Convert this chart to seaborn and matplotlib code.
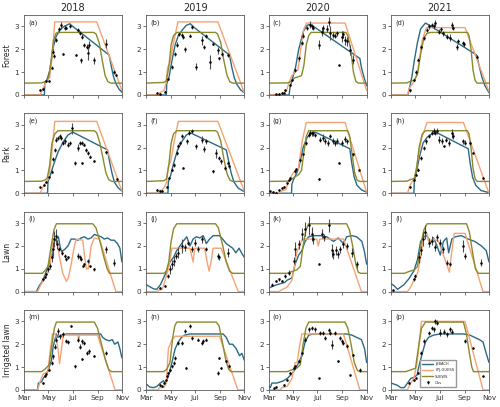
import pandas as pd
import matplotlib.pyplot as plt
import seaborn as sns
from matplotlib.lines import Line2D

# LAI per site type and year, day of year vs value
years = ['2018', '2019', '2020', '2021']
sites = ['Forest', 'Park', 'Lawn', 'Irrigated lawn']
models = ['JSBACH', 'LPJ-GUESS', 'SUEWS']
month_ticks = [60, 121, 182, 244, 305]
month_labels = ['Mar', 'May', 'Jul', 'Sep', 'Nov']

# Forest 2018 (a)
jsbach_a = [(60, 0), (111, 0), (112, 0.5), (118, 0.7), (125, 1.1), (132, 2.0), (140, 2.55), (150, 2.85), (160, 3.0), (174, 3.12), (186, 2.95), (273, 1.75), (278, 1.3), (284, 0.8), (290, 0.5), (298, 0.25), (305, 0.12)]
lpj_a = [(60, 0), (100, 0), (108, 0.3), (116, 0.6), (124, 0.75), (130, 1.6), (137, 3.2), (242, 3.2), (305, 0.2)]
suews_a = [(60, 0.52), (104, 0.53), (112, 0.58), (116, 0.62), (122, 0.8), (128, 1.5), (134, 2.4), (140, 2.7), (144, 2.74), (234, 2.74), (240, 2.68), (248, 2.3), (256, 1.5), (263, 0.85), (270, 0.58), (278, 0.52), (305, 0.52)]
obs_a = [(101, 0.22, 0.03), (108, 0.25, 0.03), (116, 0.6, 0.05), (122, 0.62, 0.05), (129, 1.2, 0.08), (133, 1.9, 0.1), (135, 1.72, 0.08), (141, 2.4, 0.1), (148, 2.88, 0.1), (153, 3.05, 0.15), (158, 1.8, 0.05), (162, 2.95, 0.1), (166, 2.95, 0.08), (174, 3.02, 0.1), (191, 1.75, 0.05), (195, 2.85, 0.1), (200, 2.72, 0.1), (203, 1.52, 0.1), (206, 2.55, 0.1), (211, 2.2, 0.08), (217, 2.12, 0.1), (219, 1.85, 0.3), (222, 2.2, 0.15), (235, 1.52, 0.15), (265, 2.25, 0.2), (286, 1.0, 0.08), (290, 0.88, 0.05)]

# Forest 2019 (b)
jsbach_b = [(60, 0), (110, 0), (111, 0.5), (117, 0.8), (124, 1.5), (132, 2.2), (140, 2.6), (150, 2.85), (160, 3.05), (170, 3.12), (180, 2.95), (268, 1.75), (274, 1.2), (280, 0.75), (287, 0.45), (296, 0.22), (305, 0.1)]
lpj_b = [(60, 0), (90, 0), (95, 0.12), (104, 0.2), (109, 0.5), (113, 1.2), (119, 1.4), (128, 2.3), (139, 3.2), (239, 3.2), (305, 0.1)]
suews_b = [(60, 0.52), (104, 0.55), (110, 0.62), (116, 1.2), (122, 2.2), (128, 2.6), (136, 2.74), (233, 2.74), (238, 2.68), (246, 2.3), (254, 1.5), (262, 0.85), (269, 0.58), (276, 0.52), (305, 0.52)]
obs_b = [(86, 0.1, 0.03), (93, 0.05, 0.03), (107, 0.15, 0.03), (115, 0.7, 0.05), (124, 1.23, 0.08), (132, 1.8, 0.08), (136, 2.2, 0.1), (142, 2.65, 0.08), (148, 2.64, 0.08), (152, 2.55, 0.08), (156, 2.0, 0.12), (169, 2.6, 0.08), (173, 2.97, 0.08), (184, 1.23, 0.15), (198, 2.4, 0.2), (204, 2.1, 0.1), (210, 2.58, 0.1), (218, 1.45, 0.3), (227, 2.25, 0.08), (239, 1.95, 0.15), (243, 1.6, 0.08), (250, 1.8, 0.1), (264, 1.75, 0.08)]

# Forest 2020 (c)
jsbach_c = [(60, 0), (111, 0), (113, 0.3), (119, 0.7), (127, 1.2), (135, 2.0), (147, 2.8), (156, 3.05), (164, 3.1), (288, 1.6), (292, 1.2), (298, 0.8), (305, 0.4)]
lpj_c = [(60, 0), (93, 0), (96, 0.1), (104, 0.15), (110, 0.5), (118, 0.85), (125, 1.0), (133, 1.1), (140, 2.0), (148, 2.9), (155, 3.15), (251, 3.15), (305, 0.2)]
suews_c = [(60, 0.52), (108, 0.53), (116, 0.6), (125, 0.75), (135, 0.8), (142, 0.85), (148, 1.3), (154, 2.2), (160, 2.6), (166, 2.74), (253, 2.74), (258, 2.6), (265, 2.0), (272, 1.0), (278, 0.6), (284, 0.52), (305, 0.52)]
obs_c = [(77, 0.03, 0.02), (85, 0.05, 0.02), (92, 0.08, 0.03), (97, 0.1, 0.03), (101, 0.2, 0.04), (112, 0.45, 0.05), (118, 0.65, 0.05), (125, 1.1, 0.08), (135, 1.6, 0.1), (143, 2.27, 0.1), (147, 2.6, 0.1), (155, 2.93, 0.1), (164, 3.08, 0.15), (168, 3.0, 0.1), (172, 2.93, 0.1), (185, 2.2, 0.2), (193, 2.78, 0.2), (197, 2.93, 0.15), (205, 2.9, 0.15), (212, 3.2, 0.2), (214, 2.7, 0.3), (220, 2.63, 0.15), (226, 2.6, 0.1), (230, 2.7, 0.1), (237, 1.3, 0.03), (243, 2.56, 0.25), (247, 2.65, 0.15), (251, 2.4, 0.2), (255, 2.35, 0.2), (264, 1.97, 0.2), (272, 1.54, 0.2)]

# Forest 2021 (d)
jsbach_d = [(60, 0), (102, 0), (106, 0.3), (112, 0.8), (118, 1.5), (126, 2.3), (134, 2.9), (146, 3.15), (156, 3.05), (274, 1.75), (280, 1.3), (287, 0.8), (295, 0.4), (305, 0.1)]
lpj_d = [(60, 0), (101, 0), (105, 0.3), (112, 0.45), (118, 0.6), (126, 1.0), (138, 2.4), (148, 2.95), (245, 2.95), (305, 0.15)]
suews_d = [(60, 0.52), (100, 0.53), (108, 0.6), (118, 0.65), (126, 0.9), (134, 1.8), (142, 2.5), (150, 2.7), (159, 2.74), (251, 2.74), (255, 2.6), (260, 2.0), (265, 1.1), (270, 0.65), (275, 0.52), (305, 0.52)]
obs_d = [(108, 0.2, 0.05), (118, 0.65, 0.05), (122, 1.0, 0.08), (128, 1.55, 0.08), (134, 2.1, 0.1), (142, 2.5, 0.1), (150, 2.85, 0.1), (156, 3.0, 0.1), (163, 3.07, 0.1), (167, 3.0, 0.1), (171, 3.15, 0.12), (179, 2.78, 0.1), (185, 2.88, 0.1), (191, 2.7, 0.1), (200, 2.56, 0.12), (208, 2.5, 0.15), (212, 3.05, 0.15), (216, 2.93, 0.1), (224, 2.1, 0.15), (228, 2.35, 0.1), (241, 2.27, 0.1), (243, 2.22, 0.1), (274, 1.68, 0.08)]

# Park 2018 (e)
jsbach_e = [(60, 0), (119, 0), (120, 0.5), (126, 0.8), (133, 1.2), (145, 1.8), (158, 2.25), (170, 2.55), (182, 2.68), (269, 1.9), (274, 1.4), (280, 0.9), (286, 0.5), (295, 0.25), (305, 0.1)]
lpj_e = [(60, 0), (100, 0), (108, 0.3), (116, 0.5), (122, 0.65), (128, 1.5), (137, 3.15), (242, 3.15), (305, 0.1)]
suews_e = [(60, 0.52), (104, 0.53), (112, 0.58), (118, 0.65), (124, 1.2), (130, 2.2), (137, 2.6), (145, 2.74), (236, 2.74), (242, 2.65), (250, 2.2), (258, 1.5), (265, 0.9), (272, 0.6), (280, 0.52), (305, 0.52)]
obs_e = [(101, 0.26, 0.03), (110, 0.37, 0.03), (116, 0.5, 0.04), (122, 0.7, 0.05), (129, 0.95, 0.06), (133, 1.5, 0.08), (137, 1.9, 0.1), (141, 2.35, 0.1), (145, 2.43, 0.1), (149, 2.5, 0.1), (153, 2.43, 0.1), (158, 2.2, 0.1), (163, 2.28, 0.1), (170, 2.13, 0.1), (176, 2.2, 0.1), (181, 2.85, 0.25), (187, 1.32, 0.08), (195, 2.0, 0.15), (199, 2.2, 0.1), (205, 2.2, 0.1), (206, 1.32, 0.05), (211, 2.13, 0.08), (216, 1.9, 0.08), (220, 1.76, 0.08), (224, 1.6, 0.06), (235, 1.4, 0.05), (265, 1.8, 0.06), (293, 0.62, 0.05)]

# Park 2019 (f)
jsbach_f = [(60, 0), (114, 0), (115, 0.5), (121, 0.8), (128, 1.3), (138, 1.9), (150, 2.3), (160, 2.55), (170, 2.65), (260, 1.9), (266, 1.4), (272, 0.9), (279, 0.5), (290, 0.22), (305, 0.08)]
lpj_f = [(60, 0), (86, 0), (90, 0.1), (100, 0.15), (106, 0.3), (111, 0.5), (115, 1.2), (121, 1.4), (130, 2.3), (140, 3.15), (239, 3.15), (305, 0.1)]
suews_f = [(60, 0.52), (104, 0.55), (110, 0.62), (116, 1.2), (122, 2.2), (128, 2.6), (136, 2.74), (233, 2.74), (238, 2.68), (246, 2.3), (254, 1.5), (262, 0.85), (269, 0.58), (276, 0.52), (305, 0.52)]
obs_f = [(86, 0.15, 0.03), (93, 0.08, 0.03), (100, 0.12, 0.03), (111, 0.26, 0.04), (117, 0.66, 0.05), (124, 1.03, 0.06), (128, 1.25, 0.08), (136, 1.76, 0.08), (138, 2.06, 0.1), (144, 2.2, 0.1), (148, 2.5, 0.1), (152, 1.1, 0.05), (161, 2.28, 0.1), (167, 2.65, 0.1), (173, 2.72, 0.1), (184, 2.06, 0.1), (198, 2.35, 0.15), (204, 1.94, 0.15), (210, 2.28, 0.1), (227, 0.96, 0.06), (235, 1.76, 0.2), (241, 1.54, 0.1), (247, 1.4, 0.1), (256, 1.1, 0.08), (264, 1.32, 0.08), (268, 1.18, 0.06)]

# Park 2020 (g)
jsbach_g = [(60, 0), (117, 0), (118, 0.4), (122, 0.6), (129, 0.85), (135, 1.1), (146, 2.0), (156, 2.45), (166, 2.62), (176, 2.68), (263, 1.95), (268, 1.3), (274, 0.7), (281, 0.35), (292, 0.15), (305, 0.05)]
lpj_g = [(60, 0), (89, 0), (92, 0.1), (102, 0.15), (110, 0.5), (118, 0.8), (126, 1.0), (134, 1.05), (144, 2.3), (154, 3.1), (251, 3.1), (305, 0.05)]
suews_g = [(60, 0.52), (108, 0.53), (116, 0.6), (124, 0.7), (135, 0.82), (142, 1.0), (148, 1.8), (154, 2.5), (160, 2.74), (257, 2.74), (262, 2.55), (268, 1.8), (275, 0.9), (281, 0.58), (288, 0.52), (305, 0.52)]
obs_g = [(64, 0.12, 0.03), (71, 0.07, 0.02), (77, 0.03, 0.02), (85, 0.15, 0.03), (93, 0.22, 0.04), (97, 0.26, 0.04), (106, 0.44, 0.05), (110, 0.59, 0.05), (114, 0.66, 0.05), (125, 0.96, 0.06), (129, 1.06, 0.06), (139, 1.47, 0.08), (147, 1.7, 0.08), (154, 2.2, 0.1), (160, 2.57, 0.1), (164, 2.65, 0.1), (168, 2.63, 0.1), (172, 2.62, 0.1), (176, 2.55, 0.1), (185, 0.62, 0.04), (189, 2.35, 0.1), (195, 2.43, 0.15), (201, 2.28, 0.12), (209, 2.2, 0.12), (214, 2.5, 0.1), (220, 2.3, 0.12), (226, 2.2, 0.12), (232, 2.28, 0.12), (237, 1.32, 0.04), (243, 2.2, 0.12), (251, 2.38, 0.12), (255, 2.28, 0.1), (272, 1.7, 0.08), (287, 1.03, 0.05)]

# Park 2021 (h)
jsbach_h = [(60, 0), (117, 0), (118, 0.5), (123, 0.9), (131, 1.6), (140, 2.2), (150, 2.45), (162, 2.6), (175, 2.65), (253, 1.95), (258, 1.3), (264, 0.7), (272, 0.35), (285, 0.12), (305, 0.03)]
lpj_h = [(60, 0), (101, 0), (106, 0.3), (112, 0.5), (118, 0.6), (124, 1.2), (136, 2.4), (150, 3.1), (241, 3.1), (305, 0.0)]
suews_h = [(60, 0.52), (100, 0.53), (108, 0.6), (118, 0.65), (124, 1.1), (130, 2.0), (138, 2.6), (146, 2.74), (251, 2.74), (255, 2.6), (260, 2.0), (265, 1.1), (270, 0.65), (275, 0.52), (305, 0.52)]
obs_h = [(108, 0.26, 0.04), (118, 0.6, 0.05), (123, 0.8, 0.05), (127, 1.03, 0.06), (134, 1.54, 0.08), (142, 1.98, 0.1), (148, 2.28, 0.1), (154, 2.5, 0.1), (163, 2.65, 0.1), (167, 2.72, 0.12), (171, 2.65, 0.1), (175, 2.72, 0.12), (179, 2.35, 0.15), (187, 2.3, 0.12), (192, 2.06, 0.05), (197, 2.35, 0.12), (204, 2.2, 0.12), (212, 2.62, 0.2), (216, 2.5, 0.12), (241, 2.28, 0.1), (245, 2.22, 0.1), (257, 2.2, 0.1), (265, 1.76, 0.06), (290, 0.66, 0.05)]

# Lawn 2018 (i)
jsbach_i = [(60, 0), (91, 0), (98, 0.25), (104, 0.4), (112, 0.7), (120, 1.1), (128, 1.5), (136, 2.2), (146, 2.4), (150, 2.0), (154, 1.75), (162, 1.85), (170, 2.0), (178, 2.3), (186, 2.3), (195, 2.25), (203, 2.35), (211, 2.4), (220, 2.3), (228, 2.35), (236, 2.5), (244, 2.45), (253, 2.4), (261, 2.3), (269, 2.35), (278, 2.25), (286, 2.25), (294, 2.1), (300, 1.9), (305, 1.3)]
lpj_i = [(60, 0), (94, 0), (102, 0.3), (112, 0.6), (120, 0.9), (125, 1.2), (133, 2.3), (141, 2.3), (149, 1.5), (157, 0.8), (166, 0.45), (171, 0.6), (178, 1.2), (186, 2.0), (191, 2.3), (207, 2.25), (212, 1.5), (216, 1.0), (221, 1.0), (228, 2.0), (236, 2.35), (249, 2.3), (290, 0.0), (305, 0.0)]
suews_i = [(60, 0.8), (106, 0.8), (114, 0.95), (120, 1.1), (128, 2.0), (135, 2.7), (141, 2.97), (232, 2.97), (240, 2.8), (250, 2.2), (260, 1.5), (268, 1.0), (274, 0.8), (305, 0.8)]
obs_i = [(108, 0.53, 0.05), (112, 0.65, 0.06), (116, 0.75, 0.08), (120, 0.97, 0.1), (125, 1.12, 0.15), (129, 1.5, 0.2), (133, 1.86, 0.3), (135, 2.3, 0.35), (139, 2.45, 0.3), (143, 2.08, 0.2), (148, 1.86, 0.1), (154, 1.7, 0.1), (162, 1.56, 0.08), (166, 1.42, 0.06), (170, 1.5, 0.06), (195, 1.56, 0.15), (199, 1.5, 0.1), (203, 1.42, 0.08), (207, 1.12, 0.06), (211, 1.2, 0.06), (220, 1.35, 0.08), (224, 1.12, 0.06), (236, 0.97, 0.05), (265, 1.86, 0.15), (286, 1.27, 0.15)]

# Lawn 2019 (j)
jsbach_j = [(60, 0.3), (70, 0.2), (78, 0.12), (86, 0.1), (95, 0.3), (103, 0.6), (111, 0.9), (119, 1.3), (128, 1.5), (136, 1.8), (144, 2.0), (152, 2.2), (161, 2.4), (165, 2.2), (169, 2.0), (177, 2.3), (185, 2.4), (194, 2.35), (202, 2.45), (206, 2.3), (210, 2.1), (218, 2.3), (227, 2.45), (243, 2.45), (251, 2.3), (260, 2.1), (268, 2.0), (276, 1.9), (284, 1.7), (292, 1.9), (298, 1.7), (305, 1.5)]
lpj_j = [(60, 0), (86, 0), (90, 0.05), (100, 0.1), (107, 0.5), (115, 1.0), (124, 1.9), (169, 1.9), (173, 1.6), (177, 1.3), (181, 1.9), (206, 1.9), (212, 1.3), (217, 0.9), (222, 1.3), (227, 1.9), (247, 1.9), (290, 0.0), (305, 0.0)]
suews_j = [(60, 0.8), (104, 0.8), (110, 0.9), (116, 1.3), (122, 2.2), (128, 2.75), (136, 2.97), (233, 2.97), (240, 2.8), (250, 2.1), (260, 1.3), (268, 0.9), (276, 0.8), (305, 0.8)]
obs_j = [(95, 0.16, 0.04), (107, 0.24, 0.05), (115, 0.68, 0.08), (119, 0.97, 0.2), (124, 1.2, 0.2), (128, 1.34, 0.2), (133, 1.56, 0.15), (140, 1.7, 0.25), (148, 2.0, 0.3), (156, 1.94, 0.15), (165, 2.15, 0.12), (173, 1.86, 0.12), (181, 2.15, 0.15), (190, 1.86, 0.12), (198, 2.3, 0.15), (210, 1.86, 0.1), (239, 1.56, 0.15), (243, 1.5, 0.1), (264, 1.7, 0.2)]

# Lawn 2020 (k)
jsbach_k = [(60, 0.15), (66, 0.2), (72, 0.25), (80, 0.3), (90, 0.35), (100, 0.4), (106, 0.5), (118, 0.6), (126, 1.2), (135, 1.6), (143, 1.8), (151, 2.2), (160, 2.4), (172, 2.45), (189, 2.45), (205, 2.4), (222, 2.2), (234, 2.35), (247, 2.1), (255, 2.4), (268, 2.45), (280, 2.4), (293, 2.2), (299, 1.8), (305, 1.2)]
lpj_k = [(60, 0), (85, 0), (95, 0.1), (106, 0.2), (118, 0.5), (126, 1.3), (130, 1.7), (143, 2.25), (147, 2.3), (180, 2.3), (184, 2.0), (188, 2.3), (247, 2.3), (292, 0.0), (305, 0.0)]
suews_k = [(60, 0.8), (106, 0.8), (118, 0.88), (130, 0.95), (139, 1.1), (146, 2.0), (153, 2.7), (160, 2.97), (255, 2.97), (262, 2.7), (270, 2.0), (278, 1.2), (284, 0.85), (290, 0.8), (305, 0.8)]
obs_k = [(68, 0.31, 0.05), (77, 0.46, 0.06), (85, 0.53, 0.06), (93, 0.46, 0.05), (101, 0.68, 0.08), (110, 0.83, 0.1), (122, 1.35, 0.15), (126, 1.86, 0.3), (135, 2.08, 0.2), (143, 2.53, 0.25), (151, 2.75, 0.3), (162, 2.9, 0.4), (168, 2.53, 0.3), (172, 2.3, 0.2), (185, 1.2, 0.05), (193, 2.53, 0.2), (199, 2.38, 0.15), (210, 2.9, 0.3), (218, 1.8, 0.3), (222, 1.64, 0.2), (229, 1.8, 0.2), (234, 1.64, 0.15), (239, 1.86, 0.15), (247, 2.08, 0.15), (255, 2.0, 0.15), (268, 1.7, 0.2), (280, 1.2, 0.15)]

# Lawn 2021 (l)
jsbach_l = [(60, 0.35), (68, 0.25), (76, 0.1), (84, 0.2), (92, 0.3), (104, 0.55), (117, 0.9), (126, 1.4), (134, 2.2), (142, 2.4), (150, 2.45), (158, 2.1), (166, 2.35), (175, 2.0), (183, 1.6), (191, 2.2), (199, 2.35), (204, 1.7), (212, 2.3), (220, 2.4), (236, 2.45), (253, 2.3), (269, 2.2), (286, 2.0), (298, 1.8), (305, 1.3)]
lpj_l = [(60, 0), (101, 0), (109, 0.2), (117, 0.5), (126, 0.8), (134, 1.5), (142, 2.55), (150, 2.55), (154, 2.2), (166, 2.3), (179, 2.2), (187, 1.8), (199, 1.2), (206, 0.85), (210, 1.5), (218, 2.55), (245, 2.55), (290, 0.0), (305, 0.0)]
suews_l = [(60, 0.8), (93, 0.8), (105, 0.88), (118, 0.95), (126, 1.1), (134, 2.0), (142, 2.7), (150, 2.97), (249, 2.97), (256, 2.6), (264, 1.7), (271, 1.0), (278, 0.8), (305, 0.8)]
obs_l = [(64, 0.06, 0.03), (117, 0.53, 0.06), (121, 0.68, 0.08), (130, 1.5, 0.25), (134, 1.8, 0.2), (140, 2.3, 0.3), (146, 2.6, 0.3), (154, 2.15, 0.2), (163, 2.23, 0.2), (171, 1.94, 0.15), (175, 2.38, 0.15), (183, 2.15, 0.15), (191, 1.86, 0.15), (200, 1.27, 0.1), (208, 1.2, 0.1), (241, 2.0, 0.25), (245, 1.56, 0.15), (286, 1.27, 0.15)]

# Irrigated lawn 2018 (m)
jsbach_m = [(60, 0), (94, 0), (96, 0.3), (104, 0.35), (108, 0.5), (116, 0.7), (120, 0.85), (129, 1.3), (133, 1.9), (141, 2.45), (145, 2.3), (153, 2.4), (166, 2.45), (252, 2.45), (257, 2.3), (265, 2.2), (273, 2.15), (281, 2.2), (287, 2.0), (295, 2.1), (300, 1.8), (305, 1.4)]
lpj_m = [(60, 0), (94, 0), (101, 0.4), (108, 0.7), (120, 0.8), (124, 1.5), (131, 2.45), (139, 2.45), (145, 1.8), (149, 1.15), (154, 1.8), (158, 2.4), (195, 2.4), (197, 2.2), (199, 2.4), (244, 2.4), (288, 0.0), (305, 0.0)]
suews_m = [(60, 0.8), (104, 0.8), (112, 0.9), (123, 1.1), (130, 2.0), (136, 2.7), (141, 2.97), (236, 2.97), (244, 2.7), (254, 2.0), (264, 1.3), (272, 0.9), (278, 0.8), (305, 0.8)]
obs_m = [(108, 0.3, 0.05), (112, 0.6, 0.05), (116, 0.7, 0.05), (123, 0.88, 0.06), (129, 1.18, 0.08), (133, 1.47, 0.1), (137, 1.9, 0.1), (141, 2.2, 0.1), (145, 2.57, 0.15), (149, 2.35, 0.1), (158, 2.43, 0.1), (166, 2.13, 0.08), (170, 2.09, 0.08), (178, 2.8, 0.06), (187, 1.03, 0.05), (195, 2.2, 0.1), (201, 1.9, 0.1), (205, 1.35, 0.05), (206, 2.13, 0.1), (211, 2.06, 0.08), (217, 1.62, 0.1), (222, 1.69, 0.1), (236, 1.47, 0.05), (265, 1.62, 0.1)]

# Irrigated lawn 2019 (n)
jsbach_n = [(60, 0.25), (69, 0.12), (78, 0.1), (86, 0.15), (95, 0.3), (103, 0.4), (107, 0.3), (115, 0.6), (124, 1.2), (132, 1.8), (140, 2.1), (148, 2.3), (156, 2.4), (169, 2.45), (252, 2.45), (260, 2.3), (268, 2.0), (276, 2.0), (285, 1.8), (293, 1.5), (299, 1.6), (305, 1.3)]
lpj_n = [(60, 0), (90, 0), (92, 0.1), (104, 0.1), (110, 0.3), (115, 1.8), (124, 2.2), (132, 2.35), (243, 2.35), (289, 0.0), (305, 0.0)]
suews_n = [(60, 0.8), (103, 0.8), (111, 0.9), (119, 1.2), (126, 2.3), (131, 2.8), (136, 2.97), (235, 2.97), (242, 2.8), (250, 2.1), (259, 1.3), (266, 0.9), (272, 0.8), (305, 0.8)]
obs_n = [(93, 0.22, 0.04), (99, 0.15, 0.04), (103, 0.3, 0.05), (109, 0.44, 0.05), (111, 0.59, 0.06), (115, 0.74, 0.06), (119, 0.88, 0.08), (124, 1.03, 0.08), (128, 1.18, 0.08), (132, 1.4, 0.1), (140, 2.06, 0.1), (148, 2.06, 0.1), (157, 2.57, 0.08), (158, 0.96, 0.06), (169, 2.8, 0.1), (173, 2.28, 0.08), (190, 2.2, 0.08), (198, 2.06, 0.08), (202, 2.15, 0.08), (210, 2.2, 0.08), (239, 0.74, 0.1), (243, 1.4, 0.05), (247, 0.96, 0.05), (260, 1.25, 0.05), (268, 1.03, 0.06)]

# Irrigated lawn 2020 (o)
jsbach_o = [(60, 0.15), (64, 0.1), (68, 0.3), (80, 0.3), (89, 0.35), (97, 0.4), (106, 0.5), (118, 0.7), (126, 0.9), (135, 1.2), (143, 1.5), (151, 2.1), (160, 2.4), (172, 2.45), (255, 2.45), (268, 2.4), (280, 2.3), (292, 2.2), (300, 1.8), (305, 1.2)]
lpj_o = [(60, 0), (89, 0), (93, 0.1), (106, 0.15), (118, 0.5), (126, 1.2), (131, 1.2), (137, 1.9), (143, 2.45), (247, 2.45), (288, 0.0), (305, 0.0)]
suews_o = [(60, 0.8), (106, 0.8), (118, 0.88), (130, 0.95), (139, 1.1), (146, 2.0), (153, 2.7), (160, 2.97), (251, 2.97), (258, 2.7), (266, 2.0), (274, 1.2), (282, 0.85), (288, 0.8), (305, 0.8)]
obs_o = [(72, 0.07, 0.03), (77, 0.12, 0.03), (97, 0.22, 0.04), (106, 0.44, 0.05), (114, 0.74, 0.06), (122, 0.96, 0.06), (126, 1.03, 0.08), (135, 1.25, 0.08), (143, 1.62, 0.1), (151, 2.2, 0.1), (160, 2.65, 0.1), (168, 2.72, 0.1), (176, 2.65, 0.1), (185, 0.51, 0.03), (189, 2.5, 0.1), (197, 2.5, 0.1), (201, 2.28, 0.1), (210, 2.62, 0.1), (214, 2.5, 0.1), (218, 1.98, 0.2), (226, 2.5, 0.1), (234, 1.28, 0.04), (239, 2.28, 0.1), (243, 2.13, 0.1), (247, 2.06, 0.1), (255, 1.91, 0.08), (263, 0.66, 0.04), (272, 1.54, 0.05), (288, 0.88, 0.08)]

# Irrigated lawn 2021 (p)
jsbach_p = [(60, 0.3), (76, 0.2), (84, 0.1), (93, 0.1), (101, 0.3), (109, 0.5), (117, 0.55), (125, 0.65), (129, 1.0), (138, 1.6), (146, 2.1), (154, 2.3), (166, 2.4), (183, 2.45), (241, 2.45), (257, 2.4), (269, 2.3), (281, 2.2), (290, 2.1), (298, 1.6), (305, 1.2)]
lpj_p = [(60, 0), (101, 0), (109, 0.3), (117, 0.5), (125, 1.2), (136, 3.0), (245, 3.0), (290, 0.0), (305, 0.0)]
suews_p = [(60, 0.8), (97, 0.8), (113, 0.9), (121, 0.95), (128, 1.8), (136, 2.7), (146, 2.97), (241, 2.97), (248, 2.5), (256, 1.6), (262, 1.0), (266, 0.8), (305, 0.8)]
obs_p = [(105, 0.3, 0.05), (117, 0.44, 0.05), (123, 0.51, 0.05), (127, 0.74, 0.06), (134, 1.62, 0.1), (142, 2.13, 0.1), (154, 2.5, 0.1), (163, 2.72, 0.1), (167, 2.65, 0.1), (171, 3.0, 0.1), (175, 2.95, 0.1), (183, 2.5, 0.15), (192, 2.55, 0.1), (200, 2.43, 0.1), (208, 2.65, 0.1), (212, 2.55, 0.1), (245, 2.13, 0.08), (266, 1.84, 0.06), (290, 0.59, 0.04)]

panels = {
    'a': (jsbach_a, lpj_a, suews_a, obs_a), 'b': (jsbach_b, lpj_b, suews_b, obs_b),
    'c': (jsbach_c, lpj_c, suews_c, obs_c), 'd': (jsbach_d, lpj_d, suews_d, obs_d),
    'e': (jsbach_e, lpj_e, suews_e, obs_e), 'f': (jsbach_f, lpj_f, suews_f, obs_f),
    'g': (jsbach_g, lpj_g, suews_g, obs_g), 'h': (jsbach_h, lpj_h, suews_h, obs_h),
    'i': (jsbach_i, lpj_i, suews_i, obs_i), 'j': (jsbach_j, lpj_j, suews_j, obs_j),
    'k': (jsbach_k, lpj_k, suews_k, obs_k), 'l': (jsbach_l, lpj_l, suews_l, obs_l),
    'm': (jsbach_m, lpj_m, suews_m, obs_m), 'n': (jsbach_n, lpj_n, suews_n, obs_n),
    'o': (jsbach_o, lpj_o, suews_o, obs_o), 'p': (jsbach_p, lpj_p, suews_p, obs_p),
}

colors = {'JSBACH': '#2a6a86', 'LPJ-GUESS': '#f5a373', 'SUEWS': '#8a8a2c'}

sns.set_style('ticks')
plt.rcParams['font.family'] = ['DejaVu Sans']
plt.rcParams['axes.edgecolor'] = '0.35'
plt.rcParams['xtick.color'] = '0.35'
plt.rcParams['ytick.color'] = '0.35'
plt.rcParams['xtick.labelcolor'] = '0.2'
plt.rcParams['ytick.labelcolor'] = '0.2'

fig, axes = plt.subplots(4, 4, figsize=(5.0, 4.07), dpi=100, sharex=True)
fig.subplots_adjust(left=0.048, right=0.978, top=0.963, bottom=0.042, wspace=0.25, hspace=0.23)

for k, letter in enumerate(panels):
    r, c = divmod(k, 4)
    ax = axes[r, c]
    jsb, lpj, sue, obs = panels[letter]
    rows = []
    for name, series in zip(models, (jsb, lpj, sue)):
        for d, v in series:
            rows.append({'doy': d, 'lai': v, 'model': name})
    df = pd.DataFrame(rows)
    ob = pd.DataFrame(obs, columns=['doy', 'lai', 'err'])

    ax.errorbar(ob['doy'], ob['lai'], yerr=ob['err'], fmt='.', color='k', ms=1.6,
                ecolor='0.3', elinewidth=0.8, capsize=0, zorder=3, label='Obs')
    sns.lineplot(data=df, x='doy', y='lai', hue='model', hue_order=models, palette=colors,
                 estimator=None, errorbar=None, lw=1.0, legend=False, ax=ax, zorder=2)

    ax.set_xlim(60, 305)
    ax.set_ylim(0, 3.5)
    ax.set_yticks([0, 1, 2, 3])
    ax.set_xticks(month_ticks)
    ax.set_xticklabels(month_labels)
    ax.set_xlabel('')
    ax.set_ylabel(sites[r] if c == 0 else '', fontsize=5.5, labelpad=2)
    ax.tick_params(labelsize=5.2, length=2, width=0.6, pad=1.5)
    for s in ax.spines.values():
        s.set_linewidth(0.6)
    ax.text(0.04, 0.95, f'({letter})', transform=ax.transAxes, fontsize=4.8, va='top', ha='left')
    if r == 0:
        ax.set_title(years[c], fontsize=7, pad=3)

# legend in the last panel
ax = axes[3, 3]
handles = [Line2D([], [], color=colors[m], lw=1.0) for m in models]
obs_handle = ax.get_legend_handles_labels()[0][0]
ax.legend(handles + [obs_handle], models + ['Obs'], loc='lower left', bbox_to_anchor=(0.28, 0.02),
          fontsize=2.6, frameon=True, handlelength=3.0, borderpad=0.5, labelspacing=0.6,
          handletextpad=0.6, fancybox=False, edgecolor='0.6', framealpha=1)

plt.savefig('out.png', dpi=100)
